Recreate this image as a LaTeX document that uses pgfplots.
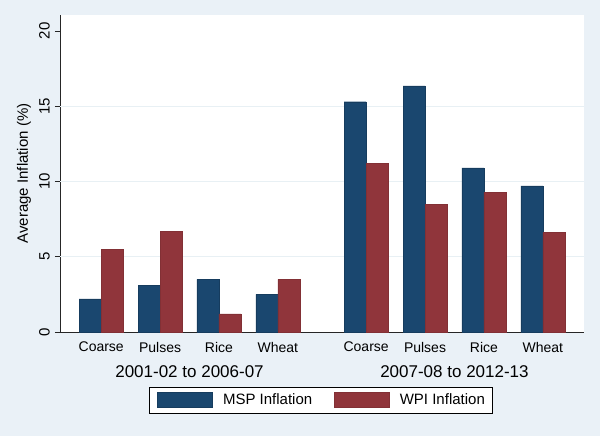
\documentclass[border=0pt]{standalone}
\usepackage{fontspec}
\setmainfont{Liberation Sans}
\usepackage{pgfplots}
\pgfplotsset{compat=1.18}
\definecolor{bg}{RGB}{234,241,247}
\definecolor{msp}{RGB}{26,71,111}
\definecolor{wpi}{RGB}{144,53,59}
\definecolor{gridc}{RGB}{232,240,244}
\begin{document}
\begin{tikzpicture}
\fill[bg] (-60bp,-104bp) rectangle (540bp,332bp);
\begin{axis}[at={(0,0)}, anchor=south west, scale only axis,
  width=524bp, height=317bp,
  xmin=-0.7, xmax=8.2, ymin=0, ymax=21.06,
  /pgf/number format/assume math mode=true,
  axis background/.style={fill=white},
  axis x line*=bottom, axis y line*=left,
  axis line style={line width=0.9bp, black!85},
  clip=false,
  xtick={0,1,2,3,4.5,5.5,6.5,7.5},
  xticklabels={Coarse,Pulses,Rice,Wheat,Coarse,Pulses,Rice,Wheat},
  major x tick style={draw=none},
  xticklabel style={font=\fontsize{14bp}{16bp}\selectfont, anchor=north, inner sep=0pt, yshift=-5bp},
  ytick={0,5,10,15,20},
  tick align=outside, major tick length=5bp,
  major y tick style={line width=0.9bp, black!85},
  yticklabel style={font=\fontsize{15bp}{17bp}\selectfont, rotate=90, anchor=south, inner sep=0pt, yshift=5bp},
  extra y ticks={5,10,15},
  extra y tick labels={},
  extra y tick style={ymajorgrids=true, major tick length=0pt, major grid style={gridc, line width=1bp}},
  ybar=0pt, bar width=22bp,
  legend columns=2,
  legend style={at={(axis description cs:0.1698,-0.1735)}, anchor=north west,
    draw=black, line width=0.9bp, fill=white,
    font=\fontsize{15bp}{17bp}\selectfont,
    inner xsep=8bp, inner ysep=5bp,
    /tikz/every odd column/.append style={column sep=10bp},
    /tikz/every even column/.append style={column sep=22bp},
    nodes={inner sep=0pt, anchor=west}},
  legend image code/.code={\draw[#1, line width=0.6bp] (0bp,-7.5bp) rectangle (55bp,7.5bp);},
]
\addplot[fill=msp, draw=msp!85!black] coordinates {(0,2.2) (1,3.1) (2,3.5) (3,2.5) (4.5,15.3) (5.5,16.35) (6.5,10.9) (7.5,9.7)};
\addplot[fill=wpi, draw=wpi!90!black] coordinates {(0,5.5) (1,6.7) (2,1.2) (3,3.5) (4.5,11.2) (5.5,8.5) (6.5,9.3) (7.5,6.6)};
\legend{MSP Inflation, WPI Inflation}
\node[font=\fontsize{17bp}{19bp}\selectfont, anchor=center] at ([yshift=-40bp]axis cs:1.5,0) {2001-02 to 2006-07};
\node[font=\fontsize{17bp}{19bp}\selectfont, anchor=center] at ([yshift=-40bp]axis cs:6,0) {2007-08 to 2012-13};
\end{axis}
\node[font=\fontsize{15bp}{17bp}\selectfont, rotate=90, anchor=center] at (-36bp,158.5bp) {Average Inflation (\%)};
\pgfresetboundingbox
\path (-60bp,-104bp) rectangle (540bp,332bp);
\end{tikzpicture}
\end{document}
